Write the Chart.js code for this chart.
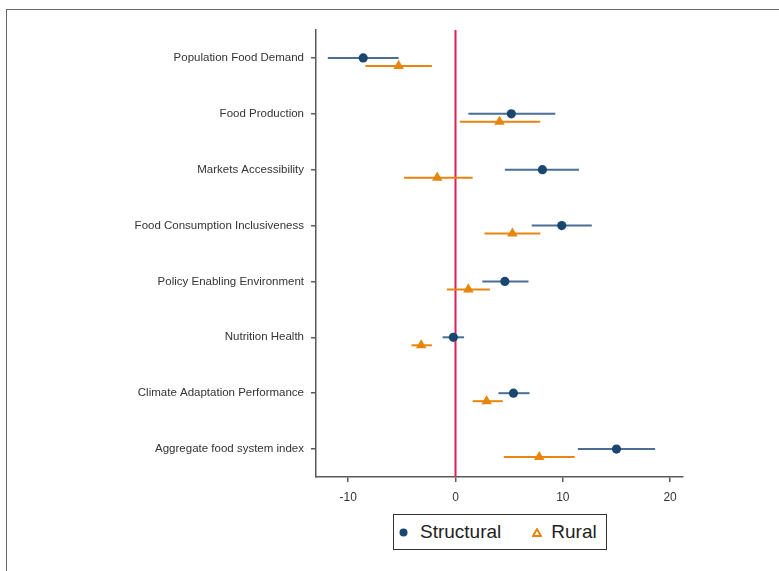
<!DOCTYPE html>
<html>
<head>
<meta charset="utf-8">
<script src="https://cdn.jsdelivr.net/npm/chart.js@4/dist/chart.umd.min.js"></script>
<style>
  html, body { margin: 0; padding: 0; background: #fff; overflow: hidden; width: 779px; height: 571px; }
  #wrap { position: relative; width: 779px; height: 571px; }
  #frame { position: absolute; left: 6px; top: 9px; width: 900px; height: 700px; border: 1px solid #666; box-sizing: border-box; pointer-events: none; }
  canvas { position: absolute; left: 0; top: 0; }
  #legend { position: absolute; left: 393px; top: 514px; width: 214px; height: 36px; border: 1.5px solid #333; box-sizing: border-box;
            display: flex; align-items: center; justify-content: flex-start; padding-left: 5px;
            font-family: "Liberation Sans", Arial, sans-serif; font-size: 19px; color: #222; background: #fff; }
  .item { display: flex; align-items: center; }
  .item + .item { margin-left: 31px; }
  .sym { display: inline-block; }
  .s0 { margin-right: 12px; }
  .s1 { margin-right: 9px; }
</style>
</head>
<body>
<div id="wrap">
  <div id="frame"></div>
  <canvas id="c" width="779" height="571"></canvas>
  <div id="legend"></div>
</div>
<script>
// ---- Data ----
const categories = [
  "Population Food Demand",
  "Food Production",
  "Markets Accessibility",
  "Food Consumption Inclusiveness",
  "Policy Enabling Environment",
  "Nutrition Health",
  "Climate Adaptation Performance",
  "Aggregate food system index"
];
const seriesNames = ["Structural", "Rural"];
const structuralEst = [-8.6, 5.2, 8.1, 9.9, 4.6, -0.2, 5.4, 15.0];
const structuralLow = [-11.9, 1.2, 4.6, 7.1, 2.5, -1.2, 4.0, 11.4];
const structuralHigh = [-5.3, 9.3, 11.5, 12.7, 6.8, 0.8, 6.9, 18.6];
const ruralEst = [-5.3, 4.1, -1.7, 5.3, 1.2, -3.2, 2.9, 7.8];
const ruralLow = [-8.4, 0.4, -4.8, 2.7, -0.8, -4.1, 1.6, 4.5];
const ruralHigh = [-2.2, 7.9, 1.6, 7.9, 3.2, -2.2, 4.4, 11.1];
const xTicks = [-10, 0, 10, 20];

// ---- Styling ----
const navy = "#1a476f";
const navyCI = "#4a6e94";
const orange = "#e8850e";
const zeroColor = "#e01e5a";
const axisColor = "#5a5a5a";
const ROW_OFFSET = 0.143;

const structuralPts = structuralEst.map((v, i) => ({ x: v, y: i + 1, lo: structuralLow[i], hi: structuralHigh[i] }));
const ruralPts = ruralEst.map((v, i) => ({ x: v, y: i + 1 + ROW_OFFSET, lo: ruralLow[i], hi: ruralHigh[i] }));

const ciPlugin = {
  id: "ci",
  beforeDatasetsDraw(chart) {
    const { ctx, chartArea, scales } = chart;
    const xs = scales.x, ys = scales.y;
    ctx.save();
    const x0 = xs.getPixelForValue(0);
    ctx.strokeStyle = zeroColor;
    ctx.lineWidth = 2;
    ctx.beginPath();
    ctx.moveTo(x0, chartArea.top);
    ctx.lineTo(x0, chartArea.bottom);
    ctx.stroke();
    chart.data.datasets.forEach((ds) => {
      ctx.strokeStyle = ds.ciColor;
      ctx.lineWidth = 2;
      ds.data.forEach((p) => {
        const y = ys.getPixelForValue(p.y);
        ctx.beginPath();
        ctx.moveTo(xs.getPixelForValue(p.lo), y);
        ctx.lineTo(xs.getPixelForValue(p.hi), y);
        ctx.stroke();
      });
    });
    ctx.restore();
  }
};

const chart = new Chart(document.getElementById("c"), {
  type: "scatter",
  data: {
    datasets: [
      { label: seriesNames[0], data: structuralPts, pointStyle: "circle", pointRadius: 4.6,
        backgroundColor: navy, borderColor: navy, borderWidth: 0, ciColor: navyCI },
      { label: seriesNames[1], data: ruralPts, pointStyle: "triangle", pointRadius: 4.6,
        backgroundColor: orange, borderColor: orange, borderWidth: 1.5, ciColor: orange }
    ]
  },
  options: {
    responsive: false,
    animation: false,
    layout: { padding: { left: 0, right: 96, top: 30, bottom: 60 } },
    plugins: { legend: { display: false }, tooltip: { enabled: false } },
    scales: {
      x: {
        type: "linear", min: -13, max: 21.2,
        afterBuildTicks(s) { s.ticks = xTicks.map(v => ({ value: v })); },
        afterFit(s) { s.height = 34; },
        grid: { drawOnChartArea: false, drawTicks: true, tickLength: 5, color: axisColor, lineWidth: 1.5 },
        border: { color: axisColor, width: 1.5 },
        ticks: { color: "#333", font: { family: "Liberation Sans, Arial", size: 12 }, padding: 8 }
      },
      y: {
        type: "linear", min: 0.5, max: 8.5, reverse: true,
        afterBuildTicks(s) { s.ticks = categories.map((_, i) => ({ value: i + 1 })); },
        afterFit(s) { s.width = 316; },
        grid: { drawOnChartArea: false, drawTicks: true, tickLength: 5, color: axisColor, lineWidth: 1.5 },
        border: { color: axisColor, width: 1.5 },
        ticks: { color: "#333", font: { family: "Liberation Sans, Arial", size: 11.5 }, padding: 7,
                 callback: (v) => categories[Math.round(v) - 1] }
      }
    }
  },
  plugins: [ciPlugin]
});

// HTML legend built from dataset labels
const legend = document.getElementById("legend");
chart.data.datasets.forEach((ds, i) => {
  const item = document.createElement("span");
  item.className = "item";
  const sym = i === 0
    ? '<svg class="sym s0" width="9" height="9"><circle cx="4.5" cy="4.5" r="4" fill="' + navy + '"/></svg>'
    : '<svg class="sym s1" width="10" height="9"><polygon points="5,1.2 9,8 1,8" fill="none" stroke="' + orange + '" stroke-width="2"/></svg>';
  item.innerHTML = sym + '<span>' + ds.label + '</span>';
  legend.appendChild(item);
});
</script>
</body>
</html>
